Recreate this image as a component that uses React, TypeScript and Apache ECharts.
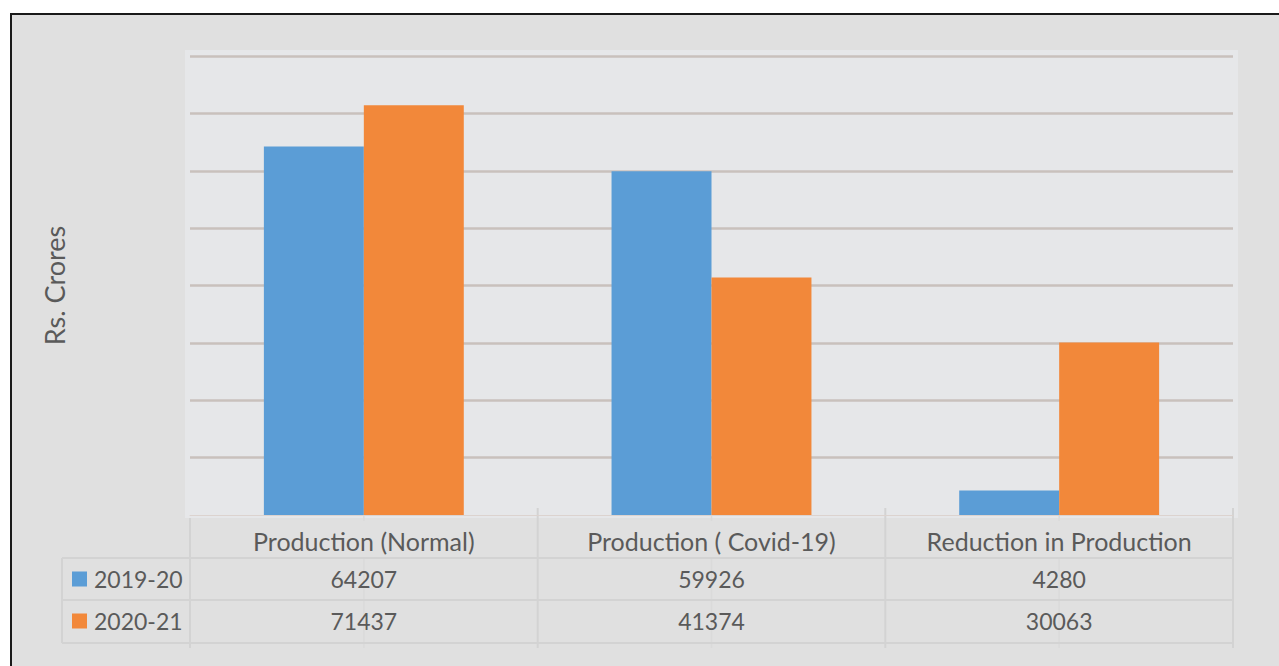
import React, { useEffect, useRef } from "react";
import * as echarts from "echarts";

const categories = ["Production (Normal)", "Production ( Covid-19)", "Reduction in Production"];
const seriesNames = ["2019-20", "2020-21"];
const values2019 = [64207, 59926, 4280];
const values2020 = [71437, 41374, 30063];
const seriesColors = ["#5B9DD6", "#F2883A"];
const yAxisTitle = "Rs. Crores";

const W = 1279;
const H = 666;
const GL = 190;
const GR = 1233;
const GT = 56;
const GB = 515;
const TXT = "#5a5a5a";
const FONT = "Lato";
const ROW1 = 579;
const ROW2 = 621;

export default function App() {
  const ref = useRef<HTMLDivElement>(null);
  useEffect(() => {
    if (!ref.current) return;
    const chart = echarts.init(ref.current, undefined, { renderer: "svg" });
    const catW = (GR - GL) / categories.length;
    const lineCol = "#d3d3d3";
    const graphics: any[] = [];
    graphics.push({
      type: "rect",
      z: -10,
      shape: { x: 11, y: 14, width: 1400, height: 800 },
      style: { fill: "#e0e0e0", stroke: "#1a1a1a", lineWidth: 2 },
      silent: true,
    });
    graphics.push({
      type: "rect",
      z: -9,
      shape: { x: 185, y: 50, width: 1238 - 185, height: 518 - 50 },
      style: { fill: "#e6e7e9" },
      silent: true,
    });
    const addLine = (x1: number, y1: number, x2: number, y2: number, col = lineCol, w = 2, z = -5) =>
      graphics.push({
        type: "line",
        z,
        shape: { x1, y1, x2, y2 },
        style: { stroke: col, lineWidth: w },
        silent: true,
      });
    addLine(GL, 518, GL, 648);
    for (let i = 1; i <= categories.length; i++) {
      addLine(GL + i * catW, 508, GL + i * catW, 648);
    }
    for (let i = 0; i < categories.length; i++) {
      const cx = GL + (i + 0.5) * catW;
      addLine(cx, 508, cx, 521, "#dadada", 1.5, -6);
      addLine(cx, 558, cx, 648, "#dadada", 1.5, -6);
    }
    [558, 600, 643].forEach((y) => addLine(62, y, GR, y));
    addLine(62, 558, 62, 643);
    [ROW1, ROW2].forEach((cy, i) => {
      graphics.push({
        type: "rect",
        z: 6,
        shape: { x: 72, y: cy - 7.5, width: 15, height: 15 },
        style: { fill: seriesColors[i] },
        silent: true,
      });
      graphics.push({
        type: "text",
        z: 6,
        x: 94,
        y: cy,
        style: {
          text: seriesNames[i],
          fill: TXT,
          font: `23px ${FONT}`,
          textVerticalAlign: "middle",
          verticalAlign: "middle",
        },
        silent: true,
      });
    });

    const baseLabel = {
      interval: 0,
      color: TXT,
      fontFamily: FONT,
      fontSize: 23,
      verticalAlign: "middle" as const,
      margin: 26,
    };

    const gridColors = ["rgba(0,0,0,0)"].concat(Array(8).fill("#c9c1bc"));

    chart.setOption({
      animation: false,
      backgroundColor: "#ffffff",
      graphic: graphics,
      grid: { left: GL, right: W - GR, top: GT, bottom: H - GB, containLabel: false },
      xAxis: [
        {
          type: "category",
          data: categories,
          position: "bottom",
          axisLine: { show: true, lineStyle: { color: "#dcd3cf", width: 1 } },
          axisTick: { show: false },
          axisLabel: { ...baseLabel, fontSize: 25 },
        },
        {
          type: "category",
          data: values2019.map(String),
          position: "bottom",
          offset: ROW1 - 541,
          axisLine: { show: false },
          axisTick: { show: false },
          axisLabel: { ...baseLabel },
        },
        {
          type: "category",
          data: values2020.map(String),
          position: "bottom",
          offset: ROW2 - 541,
          axisLine: { show: false },
          axisTick: { show: false },
          axisLabel: { ...baseLabel },
        },
      ],
      yAxis: {
        type: "value",
        min: 0,
        max: 80000,
        interval: 10000,
        axisLabel: { show: false },
        axisLine: { show: false },
        axisTick: { show: false },
        splitLine: { show: true, lineStyle: { color: gridColors, width: 2.5 } },
        name: yAxisTitle,
        nameLocation: "middle",
        nameRotate: 90,
        nameGap: GL - 68,
        nameTextStyle: { color: TXT, fontFamily: FONT, fontSize: 27 },
      },
      series: [
        {
          name: seriesNames[0],
          type: "bar",
          xAxisIndex: 0,
          data: values2019,
          barGap: "0%",
          barCategoryGap: "42.5%",
          itemStyle: { color: seriesColors[0] },
        },
        {
          name: seriesNames[1],
          type: "bar",
          xAxisIndex: 0,
          data: values2020,
          barGap: "0%",
          barCategoryGap: "42.5%",
          itemStyle: { color: seriesColors[1] },
        },
      ],
    });
    return () => chart.dispose();
  }, []);
  return (
    <div
      ref={ref}
      style={{ position: "absolute", left: 0, top: 0, width: W, height: H }}
    />
  );
}
